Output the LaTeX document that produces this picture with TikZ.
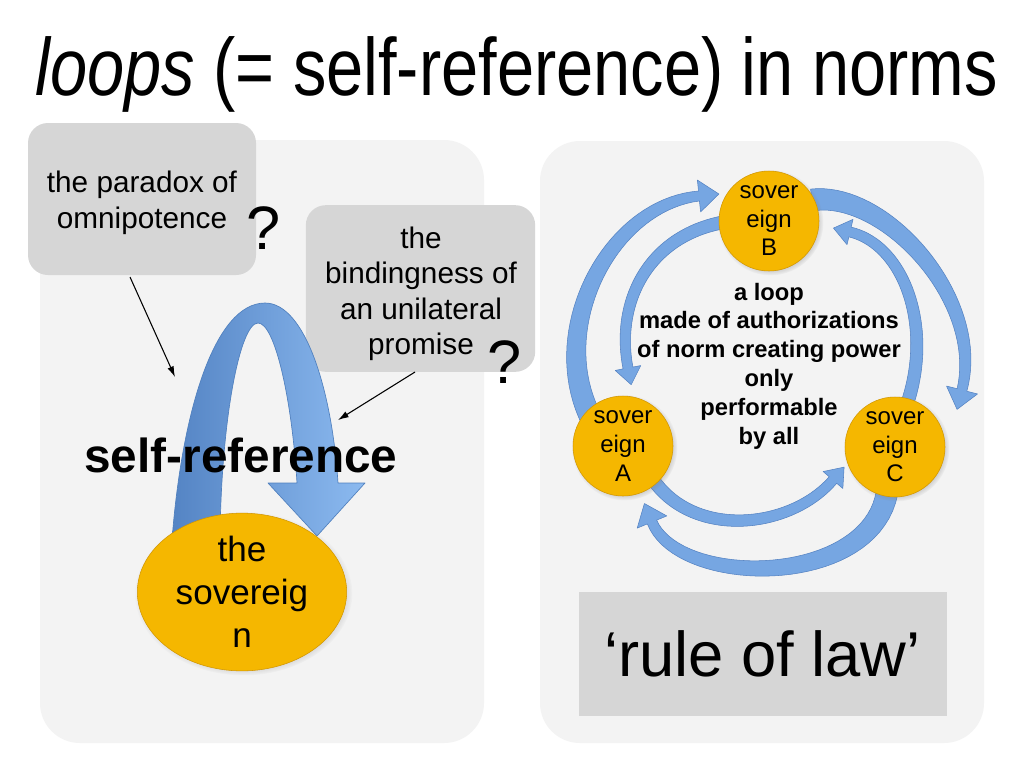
\documentclass[tikz,border=0pt]{standalone}
\usepackage{fontspec}
\setmainfont{Liberation Sans}
\usepackage{graphicx}
\usetikzlibrary{shapes.geometric,arrows.meta,shadows}
\definecolor{panel}{RGB}{243,243,243}
\definecolor{boxgray}{RGB}{214,214,214}
\definecolor{sorange}{RGB}{245,183,0}
\definecolor{sorangedk}{RGB}{210,150,0}
\definecolor{arrowmid}{RGB}{118,166,226}
\definecolor{arrowdk}{RGB}{84,130,194}
\definecolor{uleft}{RGB}{84,132,196}
\definecolor{uright}{RGB}{140,186,240}
\definecolor{uedge}{RGB}{80,128,190}

\newcommand{\bezarrow}[8]{%
  \def\Xa{#1}\def\Ya{#2}\def\Xb{#3}\def\Yb{#4}\def\Xc{#5}\def\Yc{#6}\def\Xd{#7}\def\Yd{#8}%
  \filldraw[ringarrow] plot[domain=0:1,samples=40] ({ox(\x)},{oy(\x)})
    -- ({bx(1)+\Hh*nx(1)},{by(1)+\Hh*ny(1)})
    -- ({bx(1)+\Ll*tx(1)},{by(1)+\Ll*ty(1)})
    -- ({bx(1)-\Hh*nx(1)},{by(1)-\Hh*ny(1)})
    -- plot[domain=0:1,samples=40] ({ix(1-\x)},{iy(1-\x)}) -- cycle;
}

\begin{document}
\begin{tikzpicture}[x=0.75pt,y=-0.75pt,
  declare function={
    bx(\t)=(1-\t)*(1-\t)*(1-\t)*\Xa+3*(1-\t)*(1-\t)*\t*\Xb+3*(1-\t)*\t*\t*\Xc+\t*\t*\t*\Xd;
    by(\t)=(1-\t)*(1-\t)*(1-\t)*\Ya+3*(1-\t)*(1-\t)*\t*\Yb+3*(1-\t)*\t*\t*\Yc+\t*\t*\t*\Yd;
    ddx(\t)=0.03*((1-\t)*(1-\t)*(\Xb-\Xa)+2*(1-\t)*\t*(\Xc-\Xb)+\t*\t*(\Xd-\Xc));
    ddy(\t)=0.03*((1-\t)*(1-\t)*(\Yb-\Ya)+2*(1-\t)*\t*(\Yc-\Yb)+\t*\t*(\Yd-\Yc));
    dn(\t)=sqrt(ddx(\t)*ddx(\t)+ddy(\t)*ddy(\t));
    tx(\t)=ddx(\t)/dn(\t);
    ty(\t)=ddy(\t)/dn(\t);
    nx(\t)=-ty(\t);
    ny(\t)=tx(\t);
    hw(\t)=\Wa+(\Wb-\Wa)*\t;
    ox(\t)=bx(\t)+hw(\t)*nx(\t);
    oy(\t)=by(\t)+hw(\t)*ny(\t);
    ix(\t)=bx(\t)-hw(\t)*nx(\t);
    iy(\t)=by(\t)-hw(\t)*ny(\t);
  },
  panelbox/.style={fill=panel, rounded corners=30pt},
  qbox/.style={fill=boxgray, rounded corners=15pt, inner sep=0pt},
  qtext/.style={align=center, inner sep=0pt, font=\fontsize{22.3}{26.6}\selectfont},
  qmark/.style={inner sep=0pt, font=\fontsize{46}{46}\selectfont},
  sov/.style={circle, fill=sorange, draw=sorangedk, line width=0.4pt, minimum size=75pt,
    inner sep=0pt, align=center, font=\fontsize{18}{21.4}\selectfont,
    circular drop shadow={shadow xshift=1pt, shadow yshift=-1pt, opacity=0.45, shadow scale=1.06}},
  ringarrow/.style={fill=arrowmid, draw=arrowdk, line width=0.4pt, line join=round},
  pointer/.style={draw=black, line width=0.8pt, -{Latex[length=8pt,width=5pt]}},
]
\useasboundingbox (0,0) rectangle (1024,768);
\fill[white] (0,0) rectangle (1024,768);

% panels
\fill[panelbox] (40,140) rectangle (484,743);
\fill[panelbox] (540,141) rectangle (984,743);

% title
\node[anchor=base west, inner sep=0pt] (title) at (35,95)
  {\resizebox{722pt}{\height}{\fontsize{61}{64}\selectfont\textit{loops} (= self-reference) in norms}};

% question boxes
\node[qbox, minimum width=171pt, minimum height=114pt] (box1) at (142,199) {};
\node[qtext] (box1text) at (142,203) {the paradox of\\omnipotence};
\node[qmark] (q1) at (264,228) {?};
\node[qbox, minimum width=172pt, minimum height=125pt] (box2) at (420.5,288.5) {};
\node[qtext] (box2text) at (421,294) {the\\bindingness of\\an unilateral\\promise};
\node[qmark] (q2) at (505,362) {?};

% self-reference U arrow
\path[left color=uleft, right color=uright, draw=uedge, line width=0.5pt, line join=round]
  (172,540) .. controls (182,410) and (215,303) .. (265,303)
  .. controls (305,303) and (332,390) .. (338,483)
  -- (365,483) -- (317,536) -- (268,483) -- (297,483)
  .. controls (292,400) and (275,323) .. (258,323)
  .. controls (240,323) and (221,420) .. (220,540) -- cycle;

\node[inner sep=0pt, font=\bfseries\fontsize{35.8}{40}\selectfont] (selfref) at (241,455) {self-reference};

\node[ellipse, fill=sorange, draw=sorangedk, line width=0.4pt, minimum width=157pt, minimum height=114pt,
  inner sep=0pt, align=center, font=\fontsize{26.3}{32.3}\selectfont,
  circular drop shadow={shadow xshift=1pt, shadow yshift=-1pt, opacity=0.45, shadow scale=1.04}]
  (sovereign) at (242,592) {the\\sovereig\\n};

% pointers
\coordinate (s1) at (130,277);
\coordinate (e1) at (175,377);
\coordinate (s2) at (415,372);
\coordinate (e2) at (338,420);
\draw[pointer] (s1) -- (e1);
\draw[pointer] (s2) -- (e2);

% ring arrows (outer, clockwise)
\def\Wa{11}\def\Wb{5}\def\Hh{16}\def\Ll{20}
\bezarrow{592}{420}{545}{330}{610}{205}{699}{196}
\bezarrow{812}{200}{885}{190}{985}{300}{962}{390}
\bezarrow{888}{485}{880}{588}{680}{590}{652}{522}
% inner, counter-clockwise
\def\Wa{6.5}\def\Wb{5}\def\Hh{13}\def\Ll{17}
\bezarrow{725}{222}{650}{235}{615}{300}{628}{368}
\bezarrow{905}{410}{935}{330}{905}{245}{850}{232}
\bezarrow{650}{475}{690}{540}{790}{530}{833}{480}

% sovereigns
\node[sov] (B) at (769,221) {sover\\eign\\B};
\node[sov] (A) at (623,446) {sover\\eign\\A};
\node[sov] (C) at (895,447) {sover\\eign\\C};

\node[align=center, inner sep=0pt, font=\bfseries\fontsize{17.8}{21.6}\selectfont] (loop) at (769,366)
  {a loop\\made of authorizations\\of norm creating power\\only\\performable\\by all};

% rule of law
\node[fill=boxgray, minimum width=276pt, minimum height=93pt, inner sep=0pt,
  font=\fontsize{47.5}{50}\selectfont] (rol) at (762.5,654) {‘rule of law’};
\end{tikzpicture}
\end{document}
